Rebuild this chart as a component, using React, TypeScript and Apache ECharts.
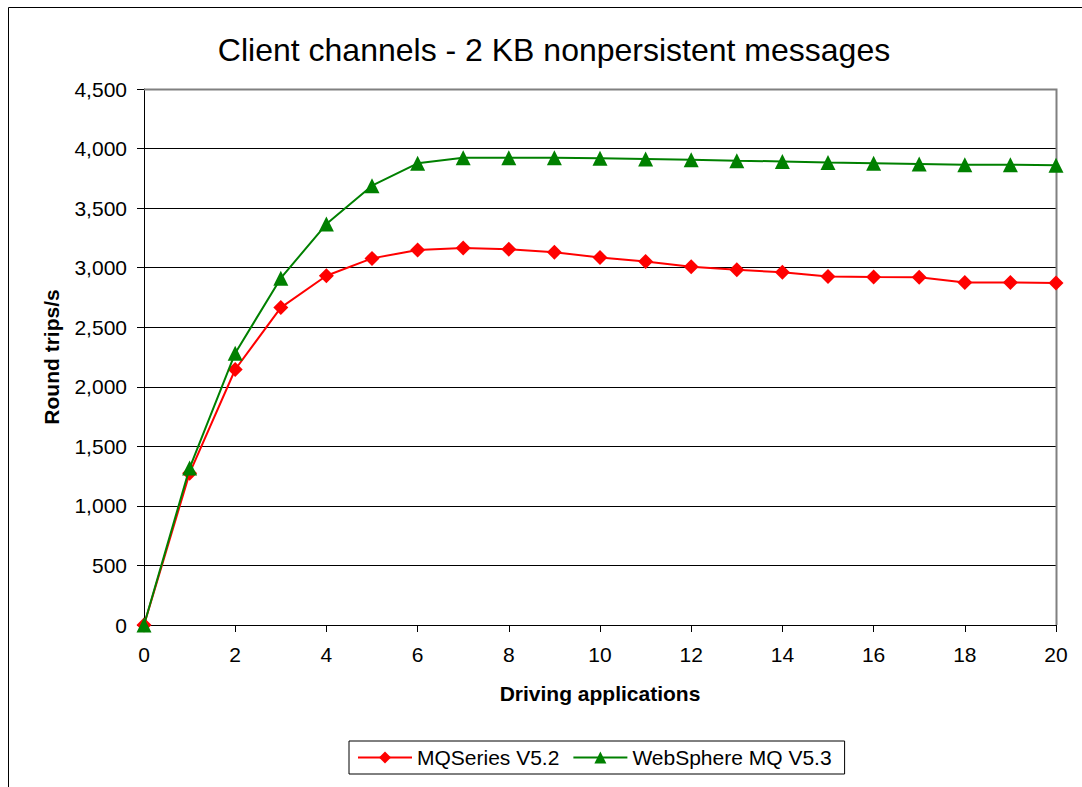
import React, { useEffect, useRef } from "react";
import * as echarts from "echarts";

const apps = [0, 1, 2, 3, 4, 5, 6, 7, 8, 9, 10, 11, 12, 13, 14, 15, 16, 17, 18, 19, 20];
const mqSeries52 = [0, 1275, 2145, 2665, 2932, 3078, 3148, 3165, 3155, 3130, 3085, 3052, 3008, 2982, 2962, 2926, 2922, 2920, 2876, 2876, 2872];
const webSphere53 = [0, 1318, 2282, 2912, 3366, 3688, 3876, 3922, 3922, 3922, 3918, 3913, 3906, 3898, 3892, 3883, 3877, 3870, 3864, 3865, 3860];
const titleText = "Client channels - 2 KB nonpersistent messages";
const seriesNames = ["MQSeries V5.2", "WebSphere MQ V5.3"];

const FONT = "'Liberation Sans', Arial, sans-serif";

export default function App() {
  const ref = useRef<HTMLDivElement>(null);
  useEffect(() => {
    document.body.style.margin = "0";
    const chart = echarts.init(ref.current!, null, { renderer: "svg" });
    chart.setOption({
      animation: false,
      backgroundColor: "#fff",
      textStyle: { fontFamily: FONT },
      title: {
        text: titleText,
        left: 549,
        textAlign: "center",
        top: 29,
        textStyle: { fontFamily: FONT, fontSize: 32, fontWeight: "normal", color: "#000" },
      },
      graphic: [
        {
          type: "rect",
          shape: { x: 8.5, y: 7.5, width: 1100, height: 800 },
          style: { fill: "none", stroke: "#000", lineWidth: 1 },
          silent: true,
        },
        {
          type: "polyline",
          shape: { points: [[144, 89.5], [1056.5, 89.5], [1056.5, 625]] },
          style: { fill: "none", stroke: "#808080", lineWidth: 2 },
          silent: true,
          z: 1,
        },
      ],
      legend: {
        left: 349,
        top: 741,
        orient: "horizontal",
        borderColor: "#000",
        borderWidth: 1,
        padding: [6, 13, 6, 8],
        itemWidth: 54,
        itemHeight: 15,
        itemGap: 13,
        textStyle: { fontFamily: FONT, fontSize: 21, color: "#000" },
        data: seriesNames,
      },
      grid: { left: 144, right: 1082 - 1056, top: 89, bottom: 787 - 625, containLabel: false },
      xAxis: {
        type: "value",
        min: 0,
        max: 20,
        interval: 2,
        name: "Driving applications",
        nameLocation: "middle",
        nameGap: 58,
        nameTextStyle: { fontFamily: FONT, fontSize: 21, fontWeight: "bold", color: "#000" },
        axisLine: { show: true, lineStyle: { color: "#000", width: 1 } },
        axisTick: { show: true, inside: false, length: 7, lineStyle: { color: "#000" } },
        axisLabel: { fontFamily: FONT, fontSize: 21, color: "#000", margin: 19 },
        splitLine: { show: false },
      },
      yAxis: {
        type: "value",
        min: 0,
        max: 4500,
        interval: 500,
        name: "Round trips/s",
        nameLocation: "middle",
        nameGap: 82,
        nameRotate: 90,
        nameTextStyle: { fontFamily: FONT, fontSize: 21, fontWeight: "bold", color: "#000" },
        axisLine: { show: true, lineStyle: { color: "#000", width: 1 } },
        axisTick: { show: true, inside: false, length: 7, lineStyle: { color: "#000" } },
        axisLabel: {
          fontFamily: FONT,
          fontSize: 21,
          color: "#000",
          margin: 17,
          formatter: (v: number) => v.toLocaleString("en-US"),
        },
        splitLine: { show: true, lineStyle: { color: "#000", width: 1 } },
      },
      series: [
        {
          name: seriesNames[0],
          type: "line",
          data: apps.map((a, i) => [a, mqSeries52[i]]),
          symbol: "diamond",
          symbolSize: 15,
          lineStyle: { color: "#ff0000", width: 2 },
          itemStyle: { color: "#ff0000" },
          z: 3,
        },
        {
          name: seriesNames[1],
          type: "line",
          data: apps.map((a, i) => [a, webSphere53[i]]),
          symbol: "triangle",
          symbolSize: 15,
          lineStyle: { color: "#008000", width: 2 },
          itemStyle: { color: "#008000" },
          z: 4,
        },
      ],
    });
    return () => chart.dispose();
  }, []);
  return <div ref={ref} style={{ position: "absolute", left: 0, top: 0, width: 1082, height: 787 }} />;
}
